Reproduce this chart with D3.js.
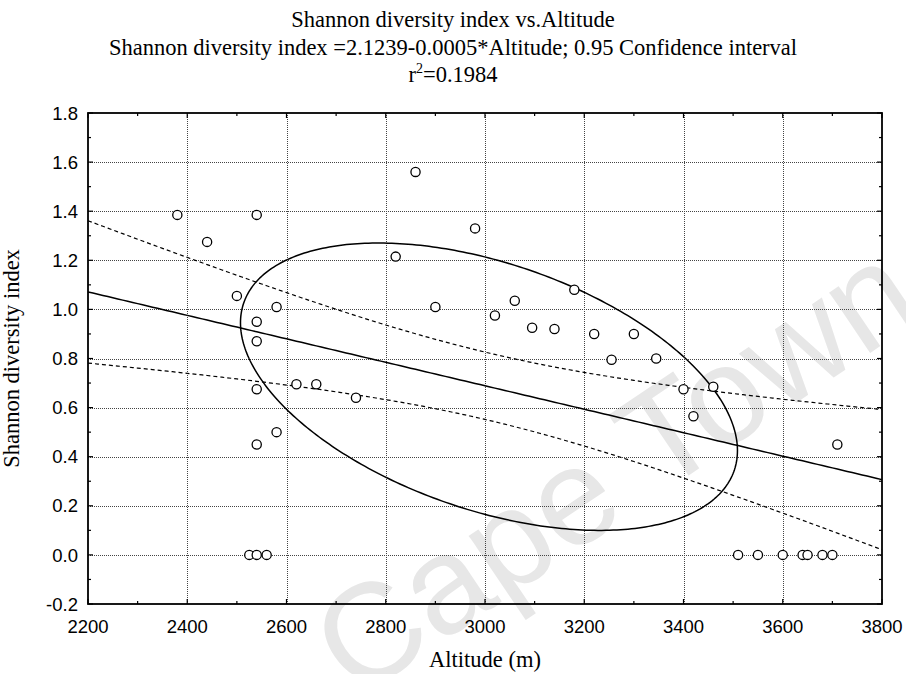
<!DOCTYPE html>
<html>
<head>
<meta charset="utf-8">
<script src="https://cdn.jsdelivr.net/npm/d3@7"></script>
<style>
  html, body { margin: 0; padding: 0; background: #fff; }
  svg { display: block; }
</style>
</head>
<body>
<svg id="chart" width="906" height="674"></svg>
<script>
// Survey plots: altitude (m) and Shannon diversity index
const altitude = [
  2380, 2440, 2540, 2500, 2580, 2540, 2540, 2540, 2620, 2660, 2580, 2540, 2525, 2540, 2560,
  2860, 2980, 2820, 2900, 3060, 3020, 3180, 3095, 3140, 3220, 2740,
  3300, 3255, 3345, 3400, 3460, 3420, 3710, 3510, 3550, 3600, 3640, 3650, 3680, 3700
];
const shannon = [
  1.385, 1.275, 1.385, 1.055, 1.01, 0.95, 0.87, 0.675, 0.695, 0.695, 0.50, 0.45, 0, 0, 0,
  1.56, 1.33, 1.215, 1.01, 1.035, 0.975, 1.08, 0.925, 0.92, 0.90, 0.64,
  0.90, 0.795, 0.80, 0.675, 0.685, 0.565, 0.45, 0, 0, 0, 0, 0, 0, 0
];

const xTicks = [2200, 2400, 2600, 2800, 3000, 3200, 3400, 3600, 3800];
const yTicks = [-0.2, 0.0, 0.2, 0.4, 0.6, 0.8, 1.0, 1.2, 1.4, 1.6, 1.8];
const xMinor = [2300, 2500, 2700, 2900, 3100, 3300, 3500, 3700];
const yMinor = [-0.1, 0.1, 0.3, 0.5, 0.7, 0.9, 1.1, 1.3, 1.5, 1.7];

const titleLines = [
  "Shannon diversity index vs.Altitude",
  "Shannon diversity index =2.1239-0.0005*Altitude; 0.95 Confidence interval"
];
const rSquaredLabel = "0.1984";
const xTitle = "Altitude (m)";
const yTitle = "Shannon diversity index";
const watermark = "Cape Town";

const tCrit = 2.0244;       // t(0.975, df = 38)
const ellipseScaleX = 1.14; // ellipse radii in standard-deviation units
const ellipseScaleY = 1.24;

const W = 906, H = 674;
const margin = { left: 88, right: 24, top: 113, bottom: 70 };
const pw = W - margin.left - margin.right;
const ph = H - margin.top - margin.bottom;

const svg = d3.select("#chart");
const serif = "'Liberation Serif', 'Times New Roman', serif";
const sans = "'Liberation Sans', Arial, sans-serif";

const x = d3.scaleLinear().domain([2200, 3800]).range([margin.left, margin.left + pw]);
const y = d3.scaleLinear().domain([-0.2, 1.8]).range([margin.top + ph, margin.top]);

// ---- statistics ----
const n = altitude.length;
const mx = d3.mean(altitude), my = d3.mean(shannon);
let sxx = 0, syy = 0, sxy = 0;
for (let i = 0; i < n; i++) {
  const dx = altitude[i] - mx, dy = shannon[i] - my;
  sxx += dx * dx; syy += dy * dy; sxy += dx * dy;
}
const slope = sxy / sxx;
const intercept = my - slope * mx;
const resid = Math.sqrt((syy - slope * sxy) / (n - 2));
const sdx = Math.sqrt(sxx / (n - 1)), sdy = Math.sqrt(syy / (n - 1));
const rho = sxy / Math.sqrt(sxx * syy);

// ---- watermark ----
svg.append("text")
  .attr("transform", "translate(614,468) rotate(-34)")
  .attr("text-anchor", "middle")
  .attr("dominant-baseline", "central")
  .attr("font-family", sans)
  .attr("font-size", 138)
  .attr("fill", "#e7e7e7")
  .text(watermark);

// ---- grid ----
const grid = svg.append("g").attr("stroke", "#444").attr("stroke-width", 1)
  .attr("stroke-dasharray", "1,1").attr("shape-rendering", "crispEdges");
grid.selectAll(".gx").data(xTicks.slice(1, -1)).join("line")
  .attr("x1", d => Math.round(x(d)) + 0.5).attr("x2", d => Math.round(x(d)) + 0.5)
  .attr("y1", margin.top).attr("y2", margin.top + ph);
grid.selectAll(".gy").data(yTicks.slice(1, -1)).join("line")
  .attr("y1", d => Math.round(y(d)) + 0.5).attr("y2", d => Math.round(y(d)) + 0.5)
  .attr("x1", margin.left).attr("x2", margin.left + pw);

// ---- regression line and confidence band ----
const xs = d3.range(2200, 3800.1, 10);
const fit = v => intercept + slope * v;
const half = v => tCrit * resid * Math.sqrt(1 / n + (v - mx) * (v - mx) / sxx);
const line = d3.line().x(d => x(d[0])).y(d => y(d[1]));

svg.append("path")
  .attr("d", line(xs.map(v => [v, fit(v)])))
  .attr("fill", "none").attr("stroke", "#000").attr("stroke-width", 1.5);
[1, -1].forEach(s => {
  svg.append("path")
    .attr("d", line(xs.map(v => [v, fit(v) + s * half(v)])))
    .attr("fill", "none").attr("stroke", "#000").attr("stroke-width", 1.2)
    .attr("stroke-dasharray", "4,3");
});

// ---- data ellipse ----
const ts = d3.range(0, 2 * Math.PI + 0.001, Math.PI / 180);
const ell = ts.map(t => [
  mx + ellipseScaleX * sdx * Math.cos(t),
  my + ellipseScaleY * sdy * (rho * Math.cos(t) + Math.sqrt(1 - rho * rho) * Math.sin(t))
]);
svg.append("path")
  .attr("d", line(ell) + "Z")
  .attr("fill", "none").attr("stroke", "#000").attr("stroke-width", 1.5);

// ---- points ----
svg.append("g").selectAll("circle").data(altitude.map((a, i) => [a, shannon[i]])).join("circle")
  .attr("cx", d => x(d[0])).attr("cy", d => y(d[1])).attr("r", 4.6)
  .attr("fill", "#fff").attr("stroke", "#000").attr("stroke-width", 1.3);

// ---- frame and ticks ----
svg.append("rect")
  .attr("x", margin.left).attr("y", margin.top).attr("width", pw).attr("height", ph)
  .attr("fill", "none").attr("stroke", "#000").attr("stroke-width", 1.8);

const ticks = svg.append("g").attr("stroke", "#000").attr("stroke-width", 1.2);
const pTop = margin.top, pBot = margin.top + ph, pLeft = margin.left, pRight = margin.left + pw;
[[xTicks, 5], [xMinor, 3]].forEach(([arr, len]) => {
  arr.forEach(v => {
    ticks.append("line").attr("x1", x(v)).attr("x2", x(v)).attr("y1", pBot).attr("y2", pBot - len);
    ticks.append("line").attr("x1", x(v)).attr("x2", x(v)).attr("y1", pTop).attr("y2", pTop + len);
  });
});
[[yTicks, 5], [yMinor, 3]].forEach(([arr, len]) => {
  arr.forEach(v => {
    ticks.append("line").attr("y1", y(v)).attr("y2", y(v)).attr("x1", pLeft).attr("x2", pLeft + len);
    ticks.append("line").attr("y1", y(v)).attr("y2", y(v)).attr("x1", pRight).attr("x2", pRight - len);
  });
});

// ---- tick labels ----
svg.append("g").selectAll("text").data(xTicks).join("text")
  .attr("x", d => x(d)).attr("y", pBot + 29)
  .attr("text-anchor", "middle").attr("font-family", sans).attr("font-size", 18.5)
  .attr("fill", "#000").text(d => d);
svg.append("g").selectAll("text").data(yTicks).join("text")
  .attr("x", pLeft - 10).attr("y", d => y(d)).attr("dy", "0.36em")
  .attr("text-anchor", "end").attr("font-family", sans).attr("font-size", 18.5)
  .attr("fill", "#000").text(d => d.toFixed(1));

// ---- titles ----
titleLines.forEach((t, i) => {
  svg.append("text").attr("x", W / 2).attr("y", 27 + i * 27.5)
    .attr("text-anchor", "middle").attr("font-family", serif).attr("font-size", 22.5)
    .attr("fill", "#000").text(t);
});
const r2 = svg.append("text").attr("x", W / 2).attr("y", 82)
  .attr("text-anchor", "middle").attr("font-family", serif).attr("font-size", 22.5).attr("fill", "#000");
r2.append("tspan").text("r");
r2.append("tspan").attr("dy", -9).attr("font-size", 14).text("2");
r2.append("tspan").attr("dy", 9).text("=" + rSquaredLabel);

svg.append("text").attr("x", (pLeft + pRight) / 2).attr("y", 667)
  .attr("text-anchor", "middle").attr("font-family", serif).attr("font-size", 22.5)
  .attr("fill", "#000").text(xTitle);
svg.append("text").attr("transform", `translate(19,${(pTop + pBot) / 2}) rotate(-90)`)
  .attr("text-anchor", "middle").attr("font-family", serif).attr("font-size", 22.5)
  .attr("fill", "#000").text(yTitle);
</script>
</body>
</html>
